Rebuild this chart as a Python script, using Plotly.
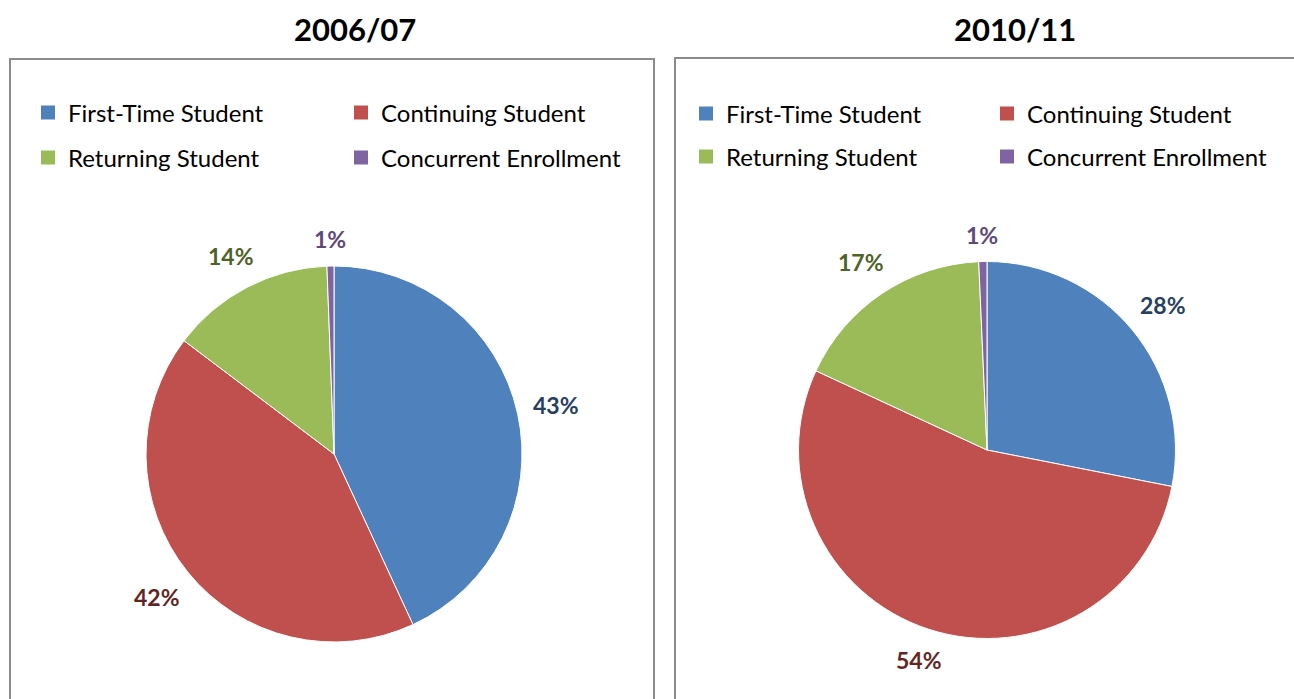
import math
import plotly.graph_objects as go

W, H = 1294, 699

categories = ["First-Time Student", "Continuing Student", "Returning Student", "Concurrent Enrollment"]
years = ["2006/07", "2010/11"]
values_2006 = [43.1, 42.2, 14.1, 0.6]
values_2010 = [28.1, 53.8, 17.4, 0.7]

slice_colors = ["#4F81BD", "#C0504D", "#9BBB59", "#8064A2"]
label_colors = ["#254061", "#632523", "#4F6228", "#5F497A"]

FONT = "Lato, 'Open Sans', sans-serif"
LABEL_SIZE = 23


def px(x):
    return x / W


def py(y):
    return 1 - y / H


fig = go.Figure()
annotations = []

# pies: (center x, center y, radius) in pixels
pie_geom = [(334, 454, 188), (987, 450, 188.5)]
for vals, (cx, cy, r) in zip([values_2006, values_2010], pie_geom):
    fig.add_trace(go.Pie(
        labels=categories,
        values=vals,
        sort=False,
        direction="clockwise",
        rotation=0,
        marker=dict(colors=slice_colors, line=dict(color="white", width=1)),
        textinfo="none",
        showlegend=False,
        hoverinfo="label+percent",
        domain=dict(x=[px(cx - r), px(cx + r)], y=[py(cy + r), py(cy - r)]),
    ))
    # outside-end data labels placed at each slice's mid-angle
    total = sum(vals)
    cum = 0.0
    for v, col in zip(vals, label_colors):
        mid = (cum + v / 2) / total * 2 * math.pi
        cum += v
        ux, uy = math.sin(mid), -math.cos(mid)
        text = "%d%%" % round(v / total * 100)
        hw = 0.47 * LABEL_SIZE * len(text) / 2
        hh = 0.45 * LABEL_SIZE
        d = r + 21 - 5 * abs(uy) ** 8 + abs(ux) * hw + abs(uy) * hh
        annotations.append(dict(
            text="<b>%s</b>" % text, x=px(cx + d * ux), y=py(cy + d * uy),
            xref="paper", yref="paper", showarrow=False, xanchor="center", yanchor="middle",
            font=dict(family=FONT, size=LABEL_SIZE, color=col),
        ))

# legends: two rows per chart, two entries per row
legend_defs = [
    ("legend", [0, 1], 28, 113, 268),
    ("legend2", [2, 3], 28, 158, 268),
    ("legend3", [0, 1], 686, 114, 256),
    ("legend4", [2, 3], 686, 157, 256),
]
layout_legends = {}
for name, idxs, lx, ly, ew in legend_defs:
    for i in idxs:
        fig.add_trace(go.Scatter(
            x=[None], y=[None], mode="markers",
            marker=dict(symbol="square", size=14, color=slice_colors[i]),
            name=categories[i], legend=name, showlegend=True, hoverinfo="skip",
        ))
    layout_legends[name] = dict(
        orientation="h", x=px(lx), y=py(ly), xanchor="left", yanchor="middle",
        entrywidth=ew, entrywidthmode="pixels",
        font=dict(family=FONT, size=24, color="#000000"),
        bgcolor="rgba(0,0,0,0)", itemclick=False, itemdoubleclick=False,
    )

shapes = [
    dict(type="rect", xref="paper", yref="paper", x0=px(10), x1=px(654), y0=py(710), y1=py(59),
         line=dict(color="#8C8C8C", width=2), fillcolor="rgba(0,0,0,0)", layer="below"),
    dict(type="rect", xref="paper", yref="paper", x0=px(675), x1=px(1310), y0=py(710), y1=py(58),
         line=dict(color="#8C8C8C", width=2), fillcolor="rgba(0,0,0,0)", layer="below"),
]

annotations += [
    dict(text="<b>%s</b>" % years[0], x=px(355), y=py(29), xref="paper", yref="paper",
         showarrow=False, font=dict(family=FONT, size=31, color="#000000"), xanchor="center", yanchor="middle"),
    dict(text="<b>%s</b>" % years[1], x=px(1015), y=py(29), xref="paper", yref="paper",
         showarrow=False, font=dict(family=FONT, size=31, color="#000000"), xanchor="center", yanchor="middle"),
]

fig.update_layout(
    width=W, height=H,
    margin=dict(l=0, r=0, t=0, b=0),
    paper_bgcolor="white", plot_bgcolor="white",
    xaxis=dict(visible=False), yaxis=dict(visible=False),
    shapes=shapes, annotations=annotations,
    **layout_legends,
)

fig.write_html(
    "out.html",
    config={"displayModeBar": False},
    post_script="document.body.style.margin='0px';document.body.style.overflow='hidden';",
)
